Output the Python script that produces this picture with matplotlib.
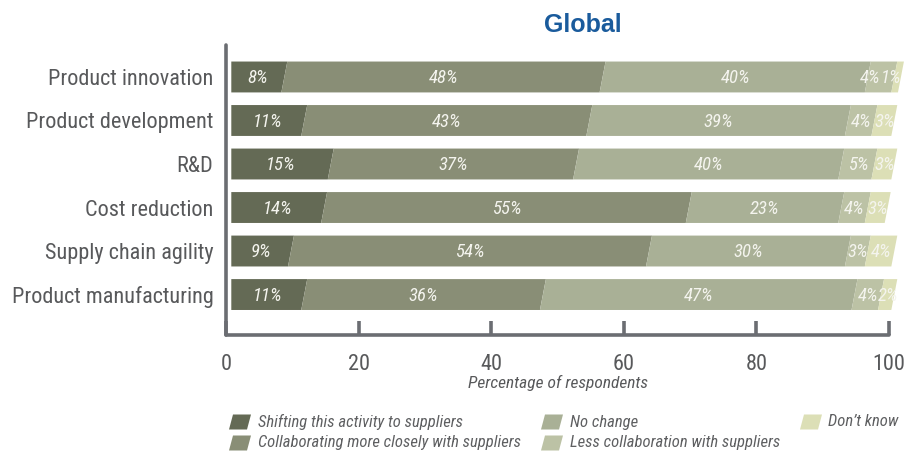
import matplotlib
matplotlib.use("Agg")
import matplotlib.pyplot as plt
from matplotlib.patches import Polygon
from matplotlib import font_manager as fm
import numpy as np

# ---------------- data ----------------
categories = ["Product innovation", "Product development", "R&D",
              "Cost reduction", "Supply chain agility", "Product manufacturing"]
series_names = ["Shifting this activity to suppliers",
                "Collaborating more closely with suppliers",
                "No change",
                "Less collaboration with suppliers",
                "Don\u2019t know"]
shifting      = [8, 11, 15, 14, 9, 11]
collaborating = [48, 43, 37, 55, 54, 36]
no_change     = [40, 39, 40, 23, 30, 47]
less_collab   = [4, 4, 5, 4, 3, 4]
dont_know     = [1, 3, 3, 3, 4, 2]
xticks = [0, 20, 40, 60, 80, 100]
title = "Global"
xlabel = "Percentage of respondents"

colors = ["#646a55", "#898e76", "#a9b096", "#bcc2a5", "#dcdfb6"]

# ---------------- fonts ----------------
names = {f.name for f in fm.fontManager.ttflist}
cond = None
for cand in ["Liberation Sans Narrow", "Roboto Condensed", "Open Sans Condensed",
             "DejaVu Sans Condensed", "Roboto"]:
    if cand in names:
        cond = cand
        break
if cond is None:
    cond = "DejaVu Sans"
plt.rcParams["font.family"] = [cond, "DejaVu Sans"]

W, H = 916, 455
fig = plt.figure(figsize=(W / 100, H / 100), dpi=100)

# axes: x=0 at px 226, x=100 at px 889; top px 45, bottom px 335
ax = fig.add_axes([226 / W, 1 - 335 / H, (889 - 226) / W, (335 - 45) / H])
ax.set_xlim(0, 100)
n = len(categories)
ax.set_ylim(n - 1 + 0.93, -0.735)

bar_h = 0.71
skew = 0.9      # horizontal slant of segment edges (data units)
x0 = 0.8        # bars start slightly right of the spine

data = [shifting, collaborating, no_change, less_collab, dont_know]
nser = len(data)
for i in range(n):
    left = x0
    centers = []
    for s, vals in enumerate(data):
        v = vals[i]
        right = left + v
        yt = i - bar_h / 2   # top (display)
        yb = i + bar_h / 2   # bottom (display)
        if s == 0:
            ltop, lbot = left, left
        else:
            ltop, lbot = left + skew / 2, left - skew / 2
        rtop, rbot = right + skew / 2, right - skew / 2
        poly = Polygon([(lbot, yb), (ltop, yt), (rtop, yt), (rbot, yb)],
                       closed=True, facecolor=colors[s], edgecolor="none",
                       zorder=2, clip_on=False)
        ax.add_patch(poly)
        centers.append(left + v / 2)
        left = right
    # nudge crowded trailing labels leftwards so they do not collide
    if data[-1][i] < 2:
        centers[-1] -= 1.0
        centers[-2] -= 1.6
    for s, vals in enumerate(data):
        ax.text(centers[s], i + 0.03, f"{vals[i]}%", ha="center", va="center",
                fontsize=13.5, style="italic", color="#f4f4ee", zorder=3,
                clip_on=False)

# spines
for sp in ["top", "right"]:
    ax.spines[sp].set_visible(False)
for sp in ["left", "bottom"]:
    ax.spines[sp].set_color("#6b6d72")
    ax.spines[sp].set_linewidth(2.6)
    ax.spines[sp].set_capstyle("round")

ax.set_yticks(range(n))
ax.set_yticklabels(categories, fontsize=16, color="#58595b")
ax.tick_params(axis="y", length=0, pad=9)

ax.set_xticks(xticks)
ax.set_xticklabels([str(t) for t in xticks], fontsize=16, color="#58595b")
ax.tick_params(axis="x", direction="in", length=10, width=2.6, color="#6b6d72", pad=14)
ax.set_xlabel(xlabel, fontsize=12.5, style="italic", color="#58595b", labelpad=0)

fig.text(583 / W, 1 - 25 / H, title, ha="center", va="center", fontsize=18,
         fontweight="bold", color="#1a5b9c", family=["Liberation Sans", "DejaVu Sans"])

# ---------------- legend (pixel-space overlay) ----------------
lax = fig.add_axes([0, 0, 1, 1])
lax.set_xlim(0, W)
lax.set_ylim(H, 0)
lax.axis("off")
cols_px = [(229, 258), (541, 570), (800, 828)]
rows_px = [422, 443]
order = [(0, 0), (0, 1), (1, 0), (1, 1), (2, 0)]  # (col,row) per series
for s, (c, r) in enumerate(order):
    px, tx = cols_px[c]
    y = rows_px[r]
    pw, ph, sk = 18, 15, 4
    lax.add_patch(Polygon([(px, y + ph / 2), (px + sk, y - ph / 2),
                           (px + sk + pw, y - ph / 2), (px + pw, y + ph / 2)],
                          closed=True, facecolor=colors[s], edgecolor="none"))
    lax.text(tx, y, series_names[s], ha="left", va="center", fontsize=12,
             style="italic", color="#5e5f61")

fig.savefig("out.png", dpi=100)
